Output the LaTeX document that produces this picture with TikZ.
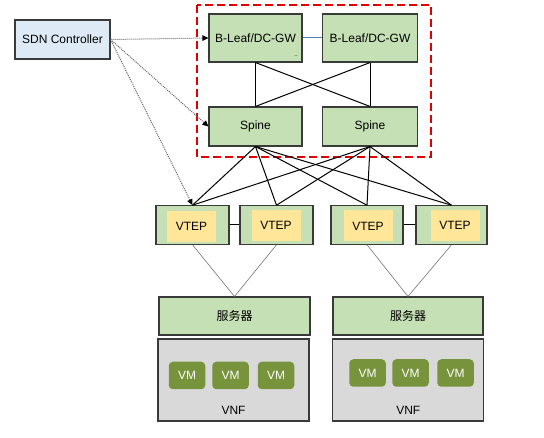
\documentclass[tikz,border=0pt]{standalone}
\usepackage{fontspec}
\setmainfont{Liberation Sans}
\newfontfamily\cjk{Noto Sans CJK SC}
\usetikzlibrary{arrows.meta}
\definecolor{lgreen}{HTML}{C5E0B4}
\definecolor{bordc}{HTML}{3A3A3A}
\definecolor{lblue}{HTML}{DEEBF7}
\definecolor{lyellow}{HTML}{FFE699}
\definecolor{vmgreen}{HTML}{77933C}
\definecolor{lgray}{HTML}{D9D9D9}
\definecolor{dred}{HTML}{E00000}
\definecolor{linkblue}{HTML}{4F81BD}
\begin{document}
\begin{tikzpicture}[x=1pt,y=-1pt,
  every node/.style={font=\fontsize{12}{14}\selectfont, inner sep=0pt},
  gbox/.style={draw=bordc, line width=1.1pt, fill=lgreen, rectangle},
  sdnbox/.style={draw=bordc, line width=1.1pt, fill=lblue, rectangle, minimum width=95, minimum height=39},
  ybox/.style={fill=lyellow, rectangle, minimum width=49, minimum height=31},
  vnfbox/.style={draw=bordc, line width=1.1pt, fill=lgray, rectangle, minimum width=151, minimum height=82},
  vmbox/.style={fill=vmgreen, rounded corners=4pt, rectangle, text=white, minimum width=36.5, minimum height=27.5},
  ctrl/.style={densely dotted, draw=black!60, line width=1pt, -{Triangle[length=6pt,width=5.5pt,fill=black,color=black]}},
  wire/.style={draw=black, line width=1pt},
  thin/.style={draw=black!55, line width=0.6pt}
]
\useasboundingbox (0,0) rectangle (544,438);
% red dashed region
\draw[dred, line width=1.8pt, dash pattern=on 8pt off 4pt] (197,5) rectangle (431,157);
% SDN controller
\node[sdnbox] (sdn) at (62.5,39.5) {SDN Controller};
% B-Leaf / spine
\node[gbox, minimum width=93, minimum height=48] (bl1) at (255.5,38) {B-Leaf/DC-GW};
\node[gbox, minimum width=95, minimum height=48] (bl2) at (370,38) {B-Leaf/DC-GW};
\node[font=\fontsize{6}{6}\selectfont] (dots) at (296,56) {..};
\node[gbox, minimum width=93, minimum height=39] (sp1) at (255.5,126.5) {Spine};
\node[gbox, minimum width=95, minimum height=39] (sp2) at (370,126.5) {Spine};
% VTEPs
\node[gbox, minimum width=73, minimum height=38.5] (v1) at (192.5,225) {};
\node[gbox, minimum width=73, minimum height=38.5] (v2) at (276.5,225) {};
\node[gbox, minimum width=72, minimum height=38.5] (v3) at (367,225) {};
\node[gbox, minimum width=71, minimum height=38.5] (v4) at (451.5,225) {};
\node[ybox] (y1) at (191.5,226.5) {VTEP};
\node[ybox] (y2) at (276,225.5) {VTEP};
\node[ybox] (y3) at (368,226) {VTEP};
\node[ybox] (y4) at (455,225.5) {VTEP};
% servers
\node[gbox, minimum width=151, minimum height=38] (s1) at (234.5,316) {\cjk 服务器};
\node[gbox, minimum width=150, minimum height=38] (s2) at (408,316) {\cjk 服务器};
% VNFs
\node[vnfbox] (f1) at (233.5,380) {};
\node[vnfbox] (f2) at (408,380) {};
\node (f1l) at (233.5,410) {VNF};
\node (f2l) at (408.3,410) {VNF};
\node[vmbox] (m1) at (187,375.5) {VM};
\node[vmbox] (m2) at (230.5,375.5) {VM};
\node[vmbox] (m3) at (276,375.5) {VM};
\node[vmbox] (m4) at (367.5,373) {VM};
\node[vmbox] (m5) at (410.5,373) {VM};
\node[vmbox] (m6) at (455.5,373) {VM};
% links
\draw[linkblue, line width=1pt] (bl1.east) -- (bl2.west);
\draw[wire] (bl1.south) -- (sp1.north);
\draw[wire] (bl1.south) -- (sp2.north);
\draw[wire] (bl2.south) -- (sp1.north);
\draw[wire] (bl2.south) -- (sp2.north);
\foreach \s in {sp1,sp2}{
  \foreach \v in {v1,v2,v3,v4}{
    \draw[wire] (\s.south) -- (\v.north);
  }
}
\draw[wire] (v1.east) -- (v2.west);
\draw[wire] (v3.east) -- (v4.west);
\draw[thin] (v1.south) -- (s1.north);
\draw[thin] (v2.south) -- (s1.north);
\draw[thin] (v3.south) -- (s2.north);
\draw[thin] (v4.south) -- (s2.north);
% controller links
\draw[ctrl] (sdn.east) -- (bl1.west);
\draw[ctrl] (sdn.east) -- (sp1.west);
\draw[ctrl] (sdn.east) -- (v1.north);
\end{tikzpicture}
\end{document}
